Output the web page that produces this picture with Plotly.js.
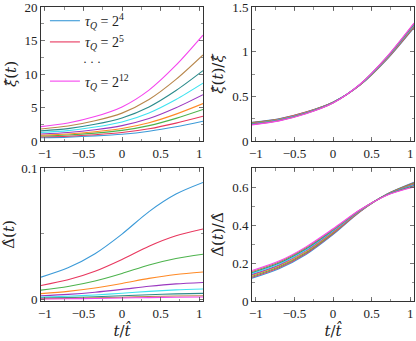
<!DOCTYPE html>
<html>
<head>
<meta charset="utf-8">
<script src="https://cdn.plot.ly/plotly-3.0.1.min.js"></script>
<style>
  html, body { margin: 0; padding: 0; background: #fff; }
  #plot { width: 416px; height: 341px; }
</style>
</head>
<body>
<div id="plot"></div>
<script>
// time axis t / t_hat
var t = [-1.05, -0.7, -0.35, 0, 0.35, 0.7, 1.05];

// tau_Q = 2^4 ... 2^12
var tauExp = [4, 5, 6, 7, 8, 9, 10, 11, 12];
var colors = ['#3b9ad8', '#e8375e', '#4db34d', '#ff8a26', '#9b38c0',
              '#3ee3f0', '#2b8b8b', '#b8874c', '#f545ee'];

// xi_hat(t)
var xiAbs = [
  [0.49, 0.58, 0.76, 1.01, 1.46, 2.13, 2.96],
  [0.60, 0.72, 0.94, 1.26, 1.82, 2.67, 3.70],
  [0.74, 0.89, 1.17, 1.58, 2.30, 3.38, 4.70],
  [0.86, 1.04, 1.38, 1.87, 2.72, 4.01, 5.58],
  [1.04, 1.27, 1.68, 2.30, 3.36, 4.97, 6.92],
  [1.27, 1.55, 2.08, 2.85, 4.19, 6.20, 8.64],
  [1.51, 1.85, 2.49, 3.44, 5.08, 7.53, 10.50],
  [1.80, 2.23, 3.01, 4.16, 6.19, 9.19, 12.84],
  [2.15, 2.69, 3.65, 5.09, 7.60, 11.31, 15.80]
];

// xi_hat(t) / xi_hat
var xiRel = [
  [0.210, 0.250, 0.325, 0.435, 0.625, 0.915, 1.270],
  [0.206, 0.247, 0.323, 0.434, 0.626, 0.919, 1.276],
  [0.203, 0.244, 0.320, 0.433, 0.628, 0.923, 1.283],
  [0.199, 0.241, 0.318, 0.431, 0.629, 0.926, 1.289],
  [0.195, 0.238, 0.315, 0.430, 0.630, 0.930, 1.295],
  [0.191, 0.234, 0.313, 0.429, 0.631, 0.934, 1.301],
  [0.188, 0.231, 0.310, 0.428, 0.633, 0.938, 1.308],
  [0.184, 0.228, 0.308, 0.426, 0.634, 0.941, 1.314],
  [0.180, 0.225, 0.305, 0.425, 0.635, 0.945, 1.320]
];

// Delta_hat(t)
var deltaAbs = [
  [0.0171, 0.0242, 0.0349, 0.0498, 0.0669, 0.0802, 0.0890],
  [0.0108, 0.0151, 0.0216, 0.0306, 0.0406, 0.0485, 0.0537],
  [0.00724, 0.01003, 0.0142, 0.01994, 0.02635, 0.0313, 0.03448],
  [0.0046, 0.00631, 0.00887, 0.01231, 0.01616, 0.01913, 0.0210],
  [0.00299, 0.00406, 0.00566, 0.0078, 0.01015, 0.01197, 0.0131],
  [0.00193, 0.00259, 0.00359, 0.00491, 0.00633, 0.00743, 0.0081],
  [0.00119, 0.00158, 0.00218, 0.00295, 0.00379, 0.00443, 0.0048],
  [0.00077, 0.00102, 0.00139, 0.00187, 0.00238, 0.00278, 0.0030],
  [0.00053, 0.0007, 0.00095, 0.00127, 0.0016, 0.00185, 0.0020]
];

// Delta_hat(t) / Delta_hat
var deltaRel = [
  [0.120, 0.170, 0.245, 0.350, 0.470, 0.563, 0.625],
  [0.125, 0.175, 0.250, 0.354, 0.471, 0.562, 0.622],
  [0.130, 0.180, 0.255, 0.358, 0.473, 0.562, 0.619],
  [0.135, 0.185, 0.260, 0.361, 0.474, 0.561, 0.616],
  [0.140, 0.190, 0.265, 0.365, 0.475, 0.560, 0.613],
  [0.145, 0.195, 0.270, 0.369, 0.476, 0.559, 0.609],
  [0.150, 0.200, 0.275, 0.373, 0.478, 0.559, 0.606],
  [0.155, 0.205, 0.280, 0.376, 0.479, 0.558, 0.603],
  [0.160, 0.210, 0.285, 0.380, 0.480, 0.557, 0.600]
];

var serif = 'Liberation Serif';
var mathFont = 'DejaVu Serif';
var data = [];

function addPanel(vals, xa, ya, legend) {
  for (var i = 0; i < vals.length; i++) {
    var last = i === vals.length - 1;
    var show = legend && (i === 0 || i === 1 || last);
    data.push({
      x: t, y: vals[i], xaxis: xa, yaxis: ya,
      mode: 'lines',
      line: {color: colors[i], width: 1.1, shape: 'spline', smoothing: 0.8},
      name: '<i>τ<sub>Q</sub></i> = 2<sup>' + tauExp[i] + '</sup>',
      showlegend: show,
      legendgroup: last ? 'b' : 'a',
      legendrank: last ? 3 : i + 1,
      hoverinfo: 'skip'
    });
  }
}

addPanel(xiAbs, 'x', 'y', true);
addPanel(xiRel, 'x2', 'y2', false);
addPanel(deltaAbs, 'x3', 'y3', false);
addPanel(deltaRel, 'x4', 'y4', false);

function xAxis(domain, anchor, showTitle) {
  return {
    domain: domain, anchor: anchor, range: [-1.05, 1.05],
    tickmode: 'array', tickvals: [-1, -0.5, 0, 0.5, 1],
    ticktext: ['−1', '−0.5', '0', '0.5', '1'],
    ticks: 'inside', ticklen: 4, tickcolor: '#555', tickwidth: 0.8,
    minor: {dtick: 0.25, tick0: 0, ticks: 'inside', ticklen: 2.5, tickcolor: '#777'},
    showline: true, linecolor: '#333', linewidth: 1, mirror: 'allticks',
    showgrid: false, zeroline: false, ticklabeloverflow: 'allow',
    tickfont: {family: serif, size: 13, color: '#222'},
    title: showTitle ? {text: '<i>t</i>/<i>t̂</i>', font: {family: mathFont, size: 15, color: '#222'}, standoff: 2} : {text: ''}
  };
}

function yAxis(domain, anchor, range, dtick, minor, title) {
  return {
    domain: domain, anchor: anchor, range: range,
    tick0: 0, dtick: dtick,
    ticks: 'inside', ticklen: 4, tickcolor: '#555', tickwidth: 0.8,
    minor: {dtick: minor, tick0: 0, ticks: 'inside', ticklen: 2.5, tickcolor: '#777'},
    showline: true, linecolor: '#333', linewidth: 1, mirror: 'allticks',
    showgrid: false, zeroline: false, ticklabeloverflow: 'allow',
    tickfont: {family: serif, size: 13, color: '#222'},
    title: {text: title, font: {family: mathFont, size: 15, color: '#222'}, standoff: 4}
  };
}

var colL = [41 / 416, 203 / 416];
var colR = [252 / 416, 414 / 416];
var rowT = [1 - 141 / 341, 1 - 7 / 341];
var rowB = [1 - 301 / 341, 1 - 168 / 341];

var layout = {
  width: 416, height: 341,
  margin: {l: 0, r: 0, t: 0, b: 0},
  paper_bgcolor: '#fff', plot_bgcolor: '#fff',
  showlegend: true,
  legend: {
    x: 0.108, y: 0.985, xanchor: 'left', yanchor: 'top',
    bgcolor: 'rgba(0,0,0,0)', borderwidth: 0,
    font: {family: serif, size: 14, color: '#222'},
    itemwidth: 30, tracegroupgap: 18
  },
  annotations: [{
    xref: 'paper', yref: 'paper', x: 0.222, y: 0.818,
    xanchor: 'center', yanchor: 'middle', showarrow: false,
    text: '· · ·', font: {family: serif, size: 12, color: '#222'}
  }],
  xaxis: xAxis(colL, 'y', false),
  yaxis: yAxis(rowT, 'x', [0, 20], 5, 2.5, '<i>ξ̂</i>(<i>t</i>)'),
  xaxis2: xAxis(colR, 'y2', false),
  yaxis2: yAxis(rowT, 'x2', [0, 1.5], 0.5, 0.25, '<i>ξ̂</i>(<i>t</i>)/<i>ξ̂</i>'),
  xaxis3: xAxis(colL, 'y3', true),
  yaxis3: yAxis(rowB, 'x3', [-0.001, 0.1], 0.1, 0.05, 'Δ̂(<i>t</i>)'),
  xaxis4: xAxis(colR, 'y4', true),
  yaxis4: yAxis(rowB, 'x4', [0, 0.7], 0.2, 0.1, 'Δ̂(<i>t</i>)/Δ̂')
};

Plotly.newPlot('plot', data, layout, {staticPlot: true, displayModeBar: false});
</script>
</body>
</html>
